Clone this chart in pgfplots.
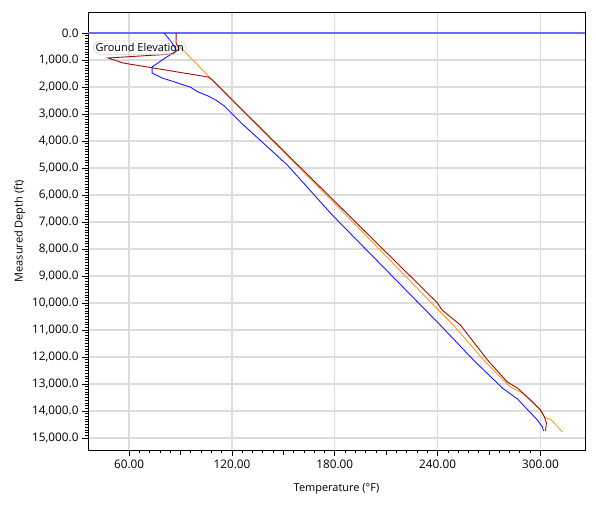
\documentclass[border=0pt]{standalone}
\usepackage{fontspec}
\setmainfont{Open Sans}
\usepackage{pgfplots}
\pgfplotsset{compat=1.18}

\definecolor{gridgray}{HTML}{DCDCDC}
\definecolor{tblue}{HTML}{1A1AFF}
\definecolor{tred}{HTML}{9A0E0E}
\definecolor{torange}{HTML}{FF9A1A}
\definecolor{gline}{HTML}{6A6AF2}

\begin{document}
\begin{tikzpicture}[font=\fontsize{11}{13}\selectfont]
\begin{axis}[
  name=ax,
  scale only axis,
  width=497bp, height=438bp,
  xmin=36, xmax=326,
  ymin=-778, ymax=15444,
  y dir=reverse,
  xtick={60,120,...,300},
  ytick={0,1000,...,15000},
  scaled x ticks=false, scaled y ticks=false,
  minor x tick num=9,
  minor y tick num=9,
  extra x ticks={90,150,210,270},
  extra x tick labels={},
  extra x tick style={grid=none, major tick length=5bp},
  xtick pos=bottom, ytick pos=left,
  tick align=outside,
  major tick length=6bp,
  minor tick length=3bp,
  tick style={black, line width=0.8pt},
  axis line style={black, line width=0.9pt},
  xmajorgrids, ymajorgrids,
  grid style={gridgray, line width=1.3pt},
  tick label style={font=\fontsize{11.8}{13}\selectfont},
  xticklabel style={/pgf/number format/fixed, /pgf/number format/fixed zerofill,
    /pgf/number format/precision=2, /pgf/number format/1000 sep={}},
  yticklabel style={/pgf/number format/fixed, /pgf/number format/fixed zerofill,
    /pgf/number format/precision=1, /pgf/number format/1000 sep={,}},
  /pgf/number format/assume math mode=true,
  xlabel={Temperature (°F)},
  ylabel={Measured Depth (ft)},
  xlabel style={yshift=2bp},
  ylabel style={yshift=0bp},
  clip=true,
]
% ground elevation line
\addplot[gline, line width=1.8pt] coordinates {(36,0) (326,0)};

% blue curve
\addplot[tblue, line width=0.9pt] coordinates {
(80.4,0) (85.1,370) (87.4,630) (86.9,700) (81.0,926) (73.4,1259) (73.4,1481)
(79.3,1667) (95.6,2000) (100.3,2185) (106.0,2330) (111.0,2500) (115.5,2700)
(119.5,2960) (124.8,3296) (152.3,4889) (178.5,6740) (237.5,10556) (240.4,10741)
(260.9,12111) (277.8,13148) (286.6,13556) (298.2,14333) (301.2,14593) (301.8,14741)
};

% orange curve
\addplot[torange, line width=0.9pt] coordinates {
(88.6,444) (108.5,1741) (182.0,6444) (238.7,10148) (249.2,10815)
(267.9,12185) (282.5,13111) (289.5,13333) (300.0,13963) (302.9,14259)
(305.8,14296) (312.8,14778)
};

% red curve
\addplot[tred, line width=0.9pt] coordinates {
(87.4,0) (87.4,370) (89.2,593) (85.1,778) (47.7,926) (56.5,1111) (106.1,1630)
(108.5,1741) (120.1,2481) (180.3,6259) (239.9,10000) (242.6,10260)
(253.3,10815) (269.1,12111) (280.7,12926) (286.6,13148) (294.2,13593)
(300.0,13963) (302.3,14222) (303.5,14444) (302.9,14741)
};

\node[draw=gray!35, rounded corners=8bp, anchor=west, inner sep=2.5bp, line width=0.6pt]
  at (axis cs:38.8,540) {Ground Elevation};
\end{axis}
\pgfresetboundingbox
\path (ax.south west) ++(-88bp,-56bp) rectangle ++(596bp,506bp);
\end{tikzpicture}
\end{document}
